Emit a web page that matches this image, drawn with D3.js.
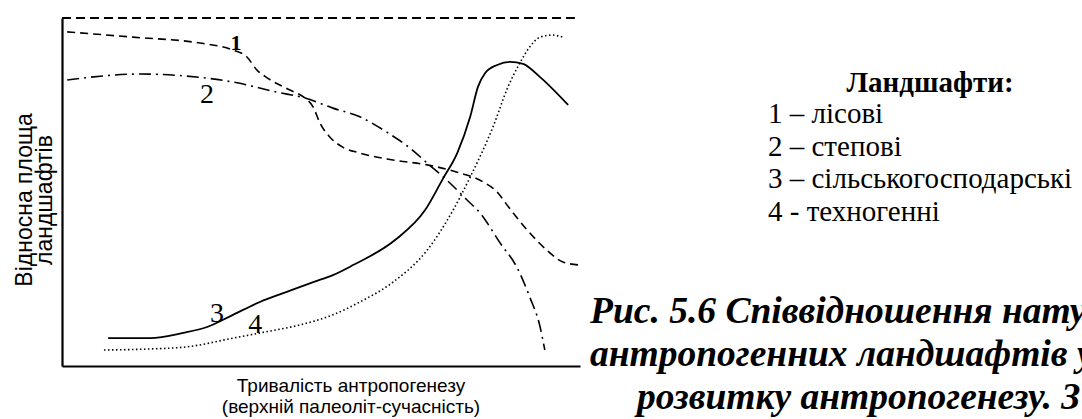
<!DOCTYPE html>
<html><head><meta charset="utf-8">
<script src="https://cdn.jsdelivr.net/npm/d3@7"></script>
<style>html,body{margin:0;padding:0;background:#fff;overflow:hidden}</style>
</head><body>
<svg id="chart" width="1082" height="419"></svg>
<script>
// Data (x: relative time 0..100, y: relative landscape area 0..100)
const forestX = [1, 13.7, 26.6, 33.0, 35.7, 37.6, 39.6, 44.0, 46.9, 48.5, 49.8, 51.7, 54.2, 57.5, 63.9, 70.5, 76.3, 81.3, 84.0, 85.9, 89.8, 93.6, 96.7, 100];
const forestY = [96.0, 94.5, 92.8, 90.8, 88.8, 85.1, 82.8, 79.3, 77.0, 74.4, 69.8, 65.8, 62.9, 61.2, 59.2, 57.8, 55.7, 52.9, 50.0, 46.3, 39.1, 33.3, 29.9, 29.0];
const steppeX = [1, 15.1, 24.1, 33.0, 41.5, 46.9, 52.3, 57.5, 62.7, 67.2, 70.5, 74.3, 78.2, 80.7, 84.6, 87.8, 90.3, 92.3, 93.2];
const steppeY = [82.2, 83.9, 83.3, 81.6, 78.7, 77.0, 74.1, 71.6, 67.2, 62.6, 58.3, 53.4, 47.7, 44.0, 35.3, 28.4, 19.8, 11.2, 4.6];
const agriX = [8.9, 17.0, 23.4, 28.0, 33.0, 38.2, 43.4, 48.5, 52.3, 56.2, 64.3, 70.1, 73.6, 76.3, 78.8, 80.3, 81.7, 84.0, 86.5, 89.0, 92.3, 97.7];
const agriY = [8.0, 8.0, 9.5, 11.2, 14.7, 18.4, 21.3, 24.1, 26.1, 29.0, 36.2, 44.8, 54.0, 61.2, 71.6, 80.2, 84.2, 86.5, 87.4, 86.8, 83.0, 75.0];
const technoX = [8.1, 17.0, 24.1, 33.0, 38.2, 45.9, 52.3, 57.5, 63.9, 70.5, 75.5, 78.8, 83.2, 86.1, 88.4, 90.3, 92.3, 94.6, 96.7];
const technoY = [4.6, 4.9, 5.5, 8.0, 9.5, 11.8, 14.7, 18.4, 24.1, 33.3, 44.8, 54.3, 68.7, 80.2, 87.1, 91.7, 94.5, 95.1, 94.5];
const limitX = [0, 99];
const limitY = [100, 100];
const curveLabels = ["1", "2", "3", "4"];
const curveLabelX = [33.6, 28.0, 29.9, 37.3];
const curveLabelY = [90.8, 75.6, 12.6, 9.5];
const legendTitle = "Ландшафти:";
const legendItems = ["1 – лісові", "2 – степові", "3 – сільськогосподарські", "4 - техногенні"];
const yTitle = ["Відносна площа", "ландшафтів"];
const xTitle = ["Тривалість антропогенезу", "(верхній палеоліт-сучасність)"];
const caption = ["Рис. 5.6 Співвідношення натуральних і", "антропогенних ландшафтів у процесі", "розвитку антропогенезу. З"];

const svg = d3.select("#chart");
const x = d3.scaleLinear().domain([0, 100]).range([62, 580]);
const y = d3.scaleLinear().domain([0, 100]).range([366, 18]);

const zip = (xs, ys) => xs.map((v, i) => [v, ys[i]]);
const line = d3.line().x(d => x(d[0])).y(d => y(d[1])).curve(d3.curveMonotoneX);

// top limit dashed line
svg.append("path").attr("d", d3.line().x(d => x(d[0])).y(d => y(d[1]))(zip(limitX, limitY)))
  .attr("fill", "none").attr("stroke", "#000").attr("stroke-width", 2).attr("stroke-dasharray", "9,5");

// axes
svg.append("g").attr("transform", `translate(${x(0)},0)`)
  .call(d3.axisLeft(y).ticks(0).tickSizeOuter(0))
  .call(g => g.select(".domain").attr("stroke-width", 2.2));
svg.append("g").attr("transform", `translate(0,${y(0)})`)
  .call(d3.axisBottom(x).ticks(0).tickSizeOuter(0))
  .call(g => g.select(".domain").attr("stroke-width", 2.2));

const series = [
  {xs: forestX, ys: forestY, dash: "8,5", w: 1.6},
  {xs: steppeX, ys: steppeY, dash: "12,5,2,5", w: 1.6},
  {xs: agriX, ys: agriY, dash: null, w: 1.8},
  {xs: technoX, ys: technoY, dash: "1.5,2.5", w: 1.6}
];
series.forEach(s => {
  svg.append("path").attr("d", line(zip(s.xs, s.ys)))
    .attr("fill", "none").attr("stroke", "#000").attr("stroke-width", s.w)
    .attr("stroke-dasharray", s.dash);
});

const serif = "Liberation Serif, Times New Roman, serif";
const sans = "Liberation Sans, Arial, sans-serif";

// curve labels
svg.selectAll("text.cl").data(curveLabels).enter().append("text")
  .attr("x", (d, i) => x(curveLabelX[i])).attr("y", (d, i) => y(curveLabelY[i]))
  .attr("text-anchor", "middle")
  .attr("font-family", serif)
  .attr("font-weight", (d, i) => i === 0 ? "bold" : "normal")
  .attr("font-size", (d, i) => i === 0 ? 22 : 28)
  .text(d => d);

// axis titles
const yt = svg.append("text").attr("transform", "translate(32,200) rotate(-90)")
  .attr("text-anchor", "middle").attr("font-family", sans).attr("font-size", 23);
yt.selectAll("tspan").data(yTitle).enter().append("tspan")
  .attr("x", 0).attr("dy", (d, i) => i === 0 ? 0 : 20).text(d => d);

const xt = svg.append("text").attr("x", 351).attr("y", 392)
  .attr("text-anchor", "middle").attr("font-family", sans).attr("font-size", 19);
xt.selectAll("tspan").data(xTitle).enter().append("tspan")
  .attr("x", 351).attr("dy", (d, i) => i === 0 ? 0 : 21).text(d => d);

// legend
svg.append("text").attr("x", 930).attr("y", 92).attr("text-anchor", "middle")
  .attr("font-family", serif).attr("font-weight", "bold").attr("font-size", 29)
  .text(legendTitle);
svg.selectAll("text.leg").data(legendItems).enter().append("text")
  .attr("x", 768).attr("y", (d, i) => 123 + i * 32.5)
  .attr("font-family", serif).attr("font-size", 29)
  .text(d => d);

// caption
const capX = [590, 590, 637];
svg.selectAll("text.cap").data(caption).enter().append("text")
  .attr("x", (d, i) => capX[i]).attr("y", (d, i) => 323 + i * 43)
  .attr("font-family", serif).attr("font-weight", "bold")
  .attr("font-style", "italic").attr("font-size", 37.5)
  .text(d => d);
</script>
</body></html>
